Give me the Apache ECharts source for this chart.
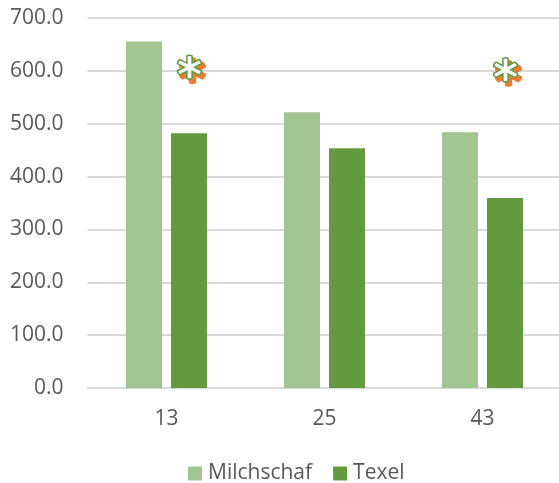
<!DOCTYPE html>
<html>
<head>
<meta charset="utf-8">
<style>html,body{margin:0;padding:0;background:#fff}#chart{width:559px;height:483px}</style>
<script src="https://cdn.jsdelivr.net/npm/echarts@6/dist/echarts.min.js"></script>
</head>
<body>
<div id="chart"></div>
<script>
const categories = ['13', '25', '43'];
const milchschaf = [655.5, 521.5, 484];
const texel = [482, 453.5, 359.5];
// Significance marks sit at this height above the first and last groups
const significance = [607, null, 602];

// Six-armed asterisk outline, in a 100x100 box
function asteriskPath() {
  const c = 50, outer = 48, half = 9.5, inner = half / Math.tan(Math.PI / 6);
  let d = '';
  for (let i = 0; i < 6; i++) {
    const a = (i * 60 - 90) * Math.PI / 180;
    const ux = Math.cos(a), uy = Math.sin(a), vx = -uy, vy = ux;
    const p = (r, s) => (c + ux * r + vx * s).toFixed(2) + ' ' + (c + uy * r + vy * s).toFixed(2);
    d += (i === 0 ? 'M' : 'L') + p(inner, -half) + ' L' + p(outer - 3, -half) +
      ' Q' + p(outer + 3, 0) + ' ' + p(outer - 3, half) + ' ';
  }
  return 'path://' + d + 'Z';
}

const textColor = '#595959';
const asterisk = asteriskPath();
const chart = echarts.init(document.getElementById('chart'), null, { renderer: 'canvas' });
chart.setOption({
  animation: false,
  backgroundColor: '#fff',
  grid: { left: 87.5, width: 474, top: 18, height: 370, containLabel: false, outerBoundsMode: 'none' },
  legend: {
    data: ['Milchschaf', 'Texel'],
    left: 188, top: 463, padding: 0,
    itemWidth: 14, itemHeight: 14, itemGap: 21,
    icon: 'rect',
    textStyle: { color: textColor, fontFamily: 'Open Sans', fontSize: 21, padding: [0, 0, 0, 1] }
  },
  xAxis: {
    type: 'category',
    data: categories,
    axisTick: { show: false },
    axisLine: { lineStyle: { color: '#d9d9d9', width: 2 } },
    axisLabel: { color: textColor, fontFamily: 'Open Sans', fontSize: 21, margin: 21 }
  },
  yAxis: {
    type: 'value',
    min: 0, max: 700, interval: 100,
    axisLine: { show: false },
    axisTick: { show: false },
    splitLine: { lineStyle: { color: '#d9d9d9', width: 2 } },
    axisLabel: {
      color: textColor, fontFamily: 'Open Sans', fontSize: 21, margin: 24,
      formatter: v => v.toFixed(1)
    }
  },
  series: [
    { name: 'Milchschaf', type: 'bar', data: milchschaf, barWidth: 36, barGap: '25%',
      itemStyle: { color: '#a3c591' } },
    { name: 'Texel', type: 'bar', data: texel, barWidth: 36,
      itemStyle: { color: '#639a3f' } },
    // Orange copy sits behind and slightly below-right of the outlined mark
    { name: 'Signifikanz Schatten', type: 'scatter', data: significance, z: 4,
      symbol: asterisk, symbolSize: 25, symbolOffset: [26, 3.5],
      itemStyle: { color: '#ed7d31', borderColor: '#ed7d31', borderWidth: 2, opacity: 1 } },
    { name: 'Signifikanz', type: 'scatter', data: significance, z: 5,
      symbol: asterisk, symbolSize: 24, symbolOffset: [23, 0],
      itemStyle: { color: '#fff', borderColor: '#5f9a3f', borderWidth: 1.5, opacity: 1 } }
  ]
});
</script>
</body>
</html>
